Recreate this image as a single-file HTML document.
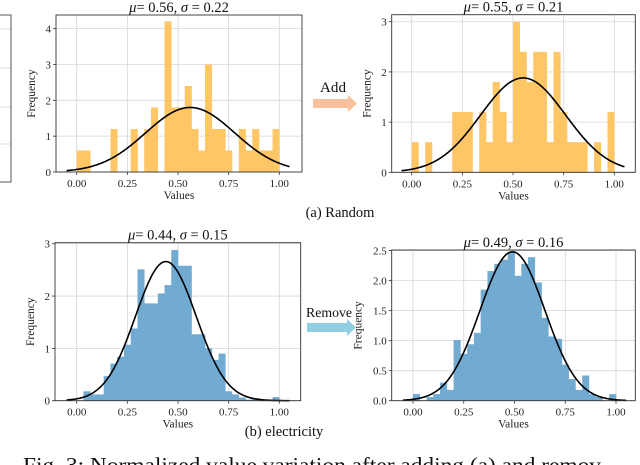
<!DOCTYPE html>
<html><head><meta charset="utf-8">
<style>
html,body{margin:0;padding:0;background:#fff;}
svg{display:block;font-family:"Liberation Serif",serif;}
</style></head>
<body>
<svg id="fig" width="640" height="465" viewBox="0 0 640 465" xmlns="http://www.w3.org/2000/svg">
  <g>
    <line x1="0" y1="29" x2="11" y2="29" stroke="#d4d4d4" stroke-width="0.8"/>
    <line x1="0" y1="68" x2="11" y2="68" stroke="#d4d4d4" stroke-width="0.8"/>
    <line x1="0" y1="107" x2="11" y2="107" stroke="#d4d4d4" stroke-width="0.8"/>
    <line x1="0" y1="144" x2="11" y2="144" stroke="#d4d4d4" stroke-width="0.8"/>
    <polyline points="0,15 11,15 11,182 0,182" fill="none" stroke="#555" stroke-width="1"/>
  </g>
  <g id="panels"></g>
  <g>
    <text x="320" y="92" font-size="15" fill="#111" textLength="26" lengthAdjust="spacingAndGlyphs">Add</text>
    <polygon points="313,99 348,99 348,95 357,103.5 348,112 348,108 313,108" fill="#f9c29c"/>
  </g>
  <g>
    <text x="306" y="317" font-size="14" fill="#111" textLength="46" lengthAdjust="spacingAndGlyphs">Remove</text>
    <polygon points="307,323 347,323 347,319 356,327.5 347,336 347,332 307,332" fill="#8fcfe1"/>
  </g>
  <text x="340" y="217" font-size="14.5" text-anchor="middle" fill="#111">(a) Random</text>
  <text x="284" y="436" font-size="14.5" text-anchor="middle" fill="#111">(b) electricity</text>
  <text x="23" y="472" font-size="21" fill="#111" textLength="578" lengthAdjust="spacingAndGlyphs">Fig. 3: Normalized value variation after adding (a) and remov</text>
</svg>
<script>
// ---- data ----
const binEdgesCount = 30;
const randBeforeHeights = [0.6,0.6,0,0,0,1.2,0,0,1.2,0,1.2,1.8,0,4.2,1.8,1.8,2.4,1.2,0.6,3.0,1.2,1.2,0.6,0,1.2,0.6,1.2,0.6,0.6,1.2];
const randAfterHeights  = [0.6,0,0.6,0,0,0,1.2,1.2,1.2,0,1.2,0.6,1.8,1.2,0.6,3.0,2.4,1.8,2.4,2.4,0.6,2.4,1.2,0.6,0.6,0.6,0,0.6,0,1.2];
const elecBeforeHeights = [0,0.18,0.12,0.12,0.47,0.71,0.84,1.07,1.38,2.51,1.86,1.86,2.05,2.21,2.88,2.58,2.58,1.27,1.27,1.0,0.78,0.9,0.18,0.12,0.06,0.02,0.05,0,0,0.07];
const elecAfterHeights  = [0.11,0,0.06,0.11,0.30,0.18,1.01,0.78,0.94,1.13,1.85,2.16,2.28,2.35,2.48,2.08,2.28,2.39,1.97,1.38,1.07,1.03,0.6,0.36,0.18,0.42,0.11,0.06,0,0.11];
const curveMeans = [0.56,0.55,0.44,0.49];
const curveSigmas = [0.22,0.21,0.15,0.16];
const curvePeaks = [1.8,1.88,2.66,2.48];
const xTickValues = [0,0.25,0.5,0.75,1.0];
const xTickLabels = ["0.00","0.25","0.50","0.75","1.00"];
const yTicksRandBefore = [0,1,2,3,4];
const yTicksRandAfter = [0,1,2,3];
const yTicksElecBefore = [0,1,2,3];
const yTicksElecAfter = [0,0.5,1.0,1.5,2.0,2.5];
const yTickLabelsElecAfter = ["0.0","0.5","1.0","1.5","2.0","2.5"];

// ---- layout ----
const panels = [
 {name:'random-before', heights:randBeforeHeights, ci:0, color:'#fec664', L:56,R:302,T:15,B:172, x0:76.7,x1:279.3, ymax:4.38, yt:yTicksRandBefore, ytl:null},
 {name:'random-after', heights:randAfterHeights, ci:1, color:'#fec664', L:391.7,R:635.3,T:14.7,B:172.3, x0:411.7,x1:614.3, ymax:3.14, yt:yTicksRandAfter, ytl:null},
 {name:'electricity-before', heights:elecBeforeHeights, ci:2, color:'#72abd2', L:55,R:300.7,T:242.7,B:400.7, x0:76.7,x1:279.3, ymax:3.02, yt:yTicksElecBefore, ytl:null},
 {name:'electricity-after', heights:elecAfterHeights, ci:3, color:'#72abd2', L:391.7,R:635.3,T:250,B:400.7, x0:413,x1:616, ymax:2.51, yt:yTicksElecAfter, ytl:yTickLabelsElecAfter}
];
const NS='http://www.w3.org/2000/svg';
const root=document.getElementById('panels');
function mk(tag, attrs, parent){const e=document.createElementNS(NS,tag);for(const k in attrs)e.setAttribute(k,attrs[k]);parent.appendChild(e);return e;}

panels.forEach(p=>{
  const g=mk('g',{},root);
  
  
  const xs=v=>p.x0+(p.x1-p.x0)*v;
  const ys=v=>p.B-(p.B-p.T)*v/p.ymax;
  xTickValues.forEach(v=>{
    const l=mk('line',{x1:xs(v),x2:xs(v),y1:p.T,y2:p.B,stroke:'#d6d6d6','stroke-width':0.8},g);
    
    
  });
  p.yt.forEach(v=>{
    const l=mk('line',{x1:p.L,x2:p.R,y1:ys(v),y2:ys(v),stroke:'#d6d6d6','stroke-width':0.8},g);
    
    
  });
  const w=1/binEdgesCount;
  p.heights.forEach((h,i)=>{
    if(h<=0)return;
    const r=mk('rect',{x:xs(i*w),y:ys(h),width:xs((i+1)*w)-xs(i*w)+0.3,height:p.B-ys(h),fill:p.color},g);
    
    
  });
  const mu=curveMeans[p.ci], sd=curveSigmas[p.ci], pk=curvePeaks[p.ci];
  let d='';
  for(let k=0;k<=220;k++){const v=-0.05+1.1*k/220;const y=pk*Math.exp(-0.5*((v-mu)/sd)**2);d+=(k?'L':'M')+xs(v).toFixed(2)+','+ys(y).toFixed(2);}
  const c=mk('path',{d:d,fill:'none',stroke:'#000','stroke-width':1.6},g);
  
  
  const f=mk('rect',{x:p.L,y:p.T,width:p.R-p.L,height:p.B-p.T,fill:'none',stroke:'#333','stroke-width':0.9},g);
  
  
  xTickValues.forEach((v,i)=>{
    mk('line',{x1:xs(v),x2:xs(v),y1:p.B,y2:p.B+3,stroke:'#333','stroke-width':0.8},g);
    const t=mk('text',{x:xs(v),y:p.B+15,'font-size':11,'text-anchor':'middle',fill:'#222'},g);
    t.textContent=xTickLabels[i];
    
    
  });
  p.yt.forEach((v,i)=>{
    mk('line',{x1:p.L-3,x2:p.L,y1:ys(v),y2:ys(v),stroke:'#333','stroke-width':0.8},g);
    const t=mk('text',{x:p.L-5,y:ys(v)+4,'font-size':11,'text-anchor':'end',fill:'#222'},g);
    t.textContent=p.ytl?p.ytl[i]:String(v);
    
    
  });
  const xl=mk('text',{x:(p.L+p.R)/2,y:p.B+27,'font-size':11.5,'text-anchor':'middle',fill:'#222'},g);
  xl.textContent='Values';
  
  
  const yx=p.ytl?p.L-30:p.L-21, yc=(p.T+p.B)/2;
  const yl=mk('text',{x:yx,y:yc,'font-size':11.5,'text-anchor':'middle',fill:'#222',transform:`rotate(-90 ${yx} ${yc})`},g);
  yl.textContent='Frequency';
  
  
  const tt=mk('text',{x:(p.L+p.R)/2,y:p.T-3,'font-size':14.5,'text-anchor':'middle',fill:'#111'},g);
  tt.innerHTML=`<tspan font-style="italic">μ</tspan>= ${mu.toFixed(2)},  <tspan font-style="italic">σ</tspan> = ${sd.toFixed(2)}`;
  
  
});
</script>
</body></html>
